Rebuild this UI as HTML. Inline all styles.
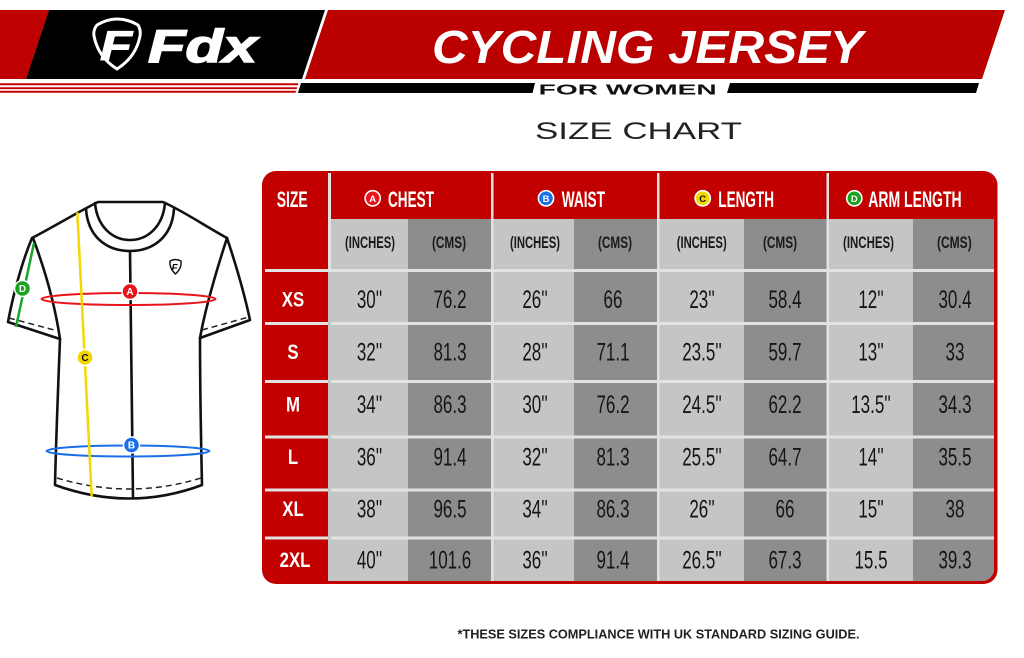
<!DOCTYPE html>
<html><head><meta charset="utf-8">
<style>
html,body{margin:0;padding:0;background:#fff;}
svg{display:block;}
text{font-family:"Liberation Sans",Arial,sans-serif;}
.n{font-size:25px;fill:#151515;}
.h{font-size:22px;font-weight:bold;fill:#fff;}
.sub{font-size:17px;font-weight:bold;fill:#1a1a1a;}
.rl{font-size:21px;font-weight:bold;fill:#fff;}
</style></head>
<body>
<svg width="1024" height="658" viewBox="0 0 1024 658" xmlns="http://www.w3.org/2000/svg">
<defs>
<clipPath id="tbl"><rect x="262" y="171" width="735.5" height="413" rx="14" ry="14"/></clipPath>
<clipPath id="inner"><rect x="262" y="171" width="732" height="410" rx="12" ry="12"/></clipPath>
</defs>
<rect width="1024" height="658" fill="#fff"/>
<!-- Header banner -->
<polygon points="0,10 49,10 26,79 0,79" fill="#bf0000"/>
<polygon points="49,10 325,10 302,79 26,79" fill="#000"/>
<polygon points="328,10 1005,10 982,79 305,79" fill="#bb0000"/>
<!-- left stripes -->
<polygon points="0,83.3 298.5,83.3 297.8,85.3 0,85.3" fill="#c40000"/>
<polygon points="0,87.2 297.2,87.2 296.6,89.1 0,89.1" fill="#c40000"/>
<polygon points="0,90.7 296.2,90.7 295.5,92.7 0,92.7" fill="#c40000"/>
<!-- black bands -->
<polygon points="301,83 535,83 532.5,93 298,93" fill="#000"/>
<polygon points="730,83 979,83 976,93 727,93" fill="#000"/>
<text x="538.7" y="94.5" font-size="15" font-weight="bold" fill="#111" textLength="178" lengthAdjust="spacingAndGlyphs">FOR WOMEN</text>
<text x="432" y="63" font-size="46" font-weight="bold" font-style="italic" fill="#fff" textLength="431" lengthAdjust="spacingAndGlyphs">CYCLING JERSEY</text>
<!-- logo -->
<path d="M97,25 Q117,13 138,25 Q141,30 140,36 Q136,57 117,69 Q98,57 94,36 Q93,30 97,25 Z" fill="none" stroke="#fff" stroke-width="3"/>
<text x="100" y="60" font-size="42" font-weight="bold" font-style="italic" fill="#fff" stroke="#fff" stroke-width="1" textLength="32" lengthAdjust="spacingAndGlyphs">F</text>
<text x="148" y="62" font-size="46" font-weight="bold" font-style="italic" fill="#fff" stroke="#fff" stroke-width="1.5" textLength="109" lengthAdjust="spacingAndGlyphs">Fdx</text>
<text x="535" y="139" font-size="24" fill="#222" textLength="207" lengthAdjust="spacingAndGlyphs">SIZE CHART</text>

<!-- Jersey -->
<g fill="none" stroke="#111" stroke-width="2.6" stroke-linejoin="round" stroke-linecap="round">
<path d="M98,202 L163,202 C185,212 205,226 227,238 C235,262 244,292 250,320 L200,338 C200,390 201,440 202,485 Q130,512 55,485 C56,440 58,390 60,339 L8,322 C13,295 22,262 32,238 C55,226 78,212 98,202 Z" fill="#fff"/>
<path d="M33,238 C45,270 55,305 60,339"/>
<path d="M227,238 C215,275 205,310 200,338"/>
<path d="M86,209 C88,238 108,251 130,251 C152,251 172,238 174,209"/>
<path d="M95,203 C97,226 112,240 130,240 C148,240 163,226 165,203"/>
<path d="M130,251 L133,498"/>
</g>
<g fill="none" stroke="#222" stroke-width="1.5" stroke-dasharray="6,4">
<path d="M9,318 L58,331"/>
<path d="M202,330 L249,317"/>
<path d="M57,478 Q130,500 201,478"/>
</g>
<!-- chest logo -->
<path d="M170,261 Q175,258 181,261 Q182,268 175.5,274 Q169,268 170,261 Z" fill="#fff" stroke="#111" stroke-width="1.4"/>
<text x="171.5" y="271" font-size="10" font-weight="bold" font-style="italic" fill="#111">F</text>
<!-- measurement lines -->
<ellipse cx="128.5" cy="299" rx="87" ry="6" fill="none" stroke="#e8141b" stroke-width="2"/>
<ellipse cx="128" cy="451" rx="81.5" ry="5.5" fill="none" stroke="#1b6fe6" stroke-width="2"/>
<line x1="77.3" y1="212.3" x2="91.7" y2="496.7" stroke="#f3d800" stroke-width="2.5"/>
<line x1="34" y1="243" x2="16" y2="327" stroke="#19a52a" stroke-width="2.5"/>
<g font-size="10" font-weight="bold" text-anchor="middle">
<circle cx="130" cy="291.5" r="8" fill="#e8141b" stroke="#fff" stroke-width="1.5"/><text x="130" y="295.2" fill="#fff">A</text>
<circle cx="131.5" cy="445" r="8" fill="#1b6fe6" stroke="#fff" stroke-width="1.5"/><text x="131.5" y="448.7" fill="#fff">B</text>
<circle cx="85" cy="357.5" r="8" fill="#f2d600" stroke="#fff" stroke-width="1.5"/><text x="85" y="361.2" fill="#111">C</text>
<circle cx="22.5" cy="288.5" r="8" fill="#1aa321" stroke="#fff" stroke-width="1.5"/><text x="22.5" y="292.2" fill="#fff">D</text>
</g>

<!-- Table -->
<rect x="262" y="171" width="735.5" height="413" rx="14" ry="14" fill="#c20000"/>
<g clip-path="url(#inner)">
<rect x="328" y="173" width="666" height="408" fill="#e2e2e2"/>
<!-- header red cells -->
<rect x="331" y="171" width="160" height="48" fill="#c20000"/>
<rect x="493.5" y="171" width="163.5" height="48" fill="#c20000"/>
<rect x="659.5" y="171" width="167" height="48" fill="#c20000"/>
<rect x="829" y="171" width="168" height="48" fill="#c20000"/>
<rect x="328" y="171" width="3" height="2" fill="#c20000"/>
<rect x="491" y="171" width="2.5" height="2" fill="#c20000"/>
<rect x="657" y="171" width="2.5" height="2" fill="#c20000"/>
<rect x="826.5" y="171" width="2.5" height="2" fill="#c20000"/>
<!-- size column horizontal separators -->
<g fill="#e2e2e2">
<rect x="265" y="269" width="63" height="3"/>
<rect x="265" y="322" width="63" height="3"/>
<rect x="265" y="380" width="63" height="3"/>
<rect x="265" y="435.5" width="63" height="3"/>
<rect x="265" y="488.5" width="63" height="3"/>
<rect x="265" y="536.5" width="63" height="3"/>
</g>
<!-- gray cells -->
<g fill="#c5c5c5">
<rect x="331" y="219" width="77" height="50"/><rect x="493.5" y="219" width="80.5" height="50"/><rect x="659.5" y="219" width="84.5" height="50"/><rect x="829" y="219" width="84" height="50"/>
<rect x="331" y="272" width="77" height="50"/><rect x="493.5" y="272" width="80.5" height="50"/><rect x="659.5" y="272" width="84.5" height="50"/><rect x="829" y="272" width="84" height="50"/>
<rect x="331" y="325" width="77" height="55"/><rect x="493.5" y="325" width="80.5" height="55"/><rect x="659.5" y="325" width="84.5" height="55"/><rect x="829" y="325" width="84" height="55"/>
<rect x="331" y="383" width="77" height="52.5"/><rect x="493.5" y="383" width="80.5" height="52.5"/><rect x="659.5" y="383" width="84.5" height="52.5"/><rect x="829" y="383" width="84" height="52.5"/>
<rect x="331" y="438.5" width="77" height="50"/><rect x="493.5" y="438.5" width="80.5" height="50"/><rect x="659.5" y="438.5" width="84.5" height="50"/><rect x="829" y="438.5" width="84" height="50"/>
<rect x="331" y="491.5" width="77" height="45"/><rect x="493.5" y="491.5" width="80.5" height="45"/><rect x="659.5" y="491.5" width="84.5" height="45"/><rect x="829" y="491.5" width="84" height="45"/>
<rect x="328" y="539.5" width="80" height="41.5"/><rect x="493.5" y="539.5" width="80.5" height="41.5"/><rect x="659.5" y="539.5" width="84.5" height="41.5"/><rect x="829" y="539.5" width="84" height="41.5"/>
</g>
<g fill="#8d8d8d">
<rect x="408" y="219" width="83" height="50"/><rect x="574" y="219" width="83" height="50"/><rect x="744" y="219" width="82.5" height="50"/><rect x="913" y="219" width="81" height="50"/>
<rect x="408" y="272" width="83" height="50"/><rect x="574" y="272" width="83" height="50"/><rect x="744" y="272" width="82.5" height="50"/><rect x="913" y="272" width="81" height="50"/>
<rect x="408" y="325" width="83" height="55"/><rect x="574" y="325" width="83" height="55"/><rect x="744" y="325" width="82.5" height="55"/><rect x="913" y="325" width="81" height="55"/>
<rect x="408" y="383" width="83" height="52.5"/><rect x="574" y="383" width="83" height="52.5"/><rect x="744" y="383" width="82.5" height="52.5"/><rect x="913" y="383" width="81" height="52.5"/>
<rect x="408" y="438.5" width="83" height="50"/><rect x="574" y="438.5" width="83" height="50"/><rect x="744" y="438.5" width="82.5" height="50"/><rect x="913" y="438.5" width="81" height="50"/>
<rect x="408" y="491.5" width="83" height="45"/><rect x="574" y="491.5" width="83" height="45"/><rect x="744" y="491.5" width="82.5" height="45"/><rect x="913" y="491.5" width="81" height="45"/>
<rect x="408" y="539.5" width="83" height="41.5"/><rect x="574" y="539.5" width="83" height="41.5"/><rect x="744" y="539.5" width="82.5" height="41.5"/><rect x="913" y="539.5" width="81" height="41.5"/>
</g>
<rect x="328" y="272" width="3" height="309" fill="#c5c5c5"/>
</g>

<!-- header texts -->
<text class="h" x="276.7" y="207" textLength="31" lengthAdjust="spacingAndGlyphs">SIZE</text>
<text class="h" x="388" y="207" textLength="46" lengthAdjust="spacingAndGlyphs">CHEST</text>
<text class="h" x="561.7" y="207" textLength="43.3" lengthAdjust="spacingAndGlyphs">WAIST</text>
<text class="h" x="718.3" y="207" textLength="55.7" lengthAdjust="spacingAndGlyphs">LENGTH</text>
<text class="h" x="868.3" y="207" textLength="93.3" lengthAdjust="spacingAndGlyphs">ARM LENGTH</text>
<g font-size="9.5" font-weight="bold" text-anchor="middle">
<circle cx="372.7" cy="198.3" r="7.6" fill="#e8141b" stroke="#fff" stroke-width="1.6"/><text x="372.7" y="201.8" fill="#fff">A</text>
<circle cx="546" cy="198.3" r="7.6" fill="#1b6fe6" stroke="#fff" stroke-width="1.6"/><text x="546" y="201.8" fill="#fff">B</text>
<circle cx="702.7" cy="198.3" r="7.6" fill="#f2d600" stroke="#fff" stroke-width="1.6"/><text x="702.7" y="201.8" fill="#111">C</text>
<circle cx="854.3" cy="198.3" r="7.6" fill="#1aa321" stroke="#fff" stroke-width="1.6"/><text x="854.3" y="201.8" fill="#fff">D</text>
</g>
<!-- sub headers -->
<text class="sub" x="345" y="248" textLength="50" lengthAdjust="spacingAndGlyphs">(INCHES)</text>
<text class="sub" x="432" y="248" textLength="34" lengthAdjust="spacingAndGlyphs">(CMS)</text>
<text class="sub" x="510" y="248" textLength="50" lengthAdjust="spacingAndGlyphs">(INCHES)</text>
<text class="sub" x="598" y="248" textLength="34" lengthAdjust="spacingAndGlyphs">(CMS)</text>
<text class="sub" x="676.7" y="248" textLength="50" lengthAdjust="spacingAndGlyphs">(INCHES)</text>
<text class="sub" x="763" y="248" textLength="34" lengthAdjust="spacingAndGlyphs">(CMS)</text>
<text class="sub" x="843" y="248" textLength="51" lengthAdjust="spacingAndGlyphs">(INCHES)</text>
<text class="sub" x="937" y="248" textLength="34.7" lengthAdjust="spacingAndGlyphs">(CMS)</text>

<!-- row labels -->
<g class="rl" text-anchor="middle">
<text class="rl" transform="translate(293 306.5) scale(0.8 1)">XS</text>
<text class="rl" transform="translate(293 359) scale(0.8 1)">S</text>
<text class="rl" transform="translate(293 411.5) scale(0.8 1)">M</text>
<text class="rl" transform="translate(293 464) scale(0.8 1)">L</text>
<text class="rl" transform="translate(293 516) scale(0.8 1)">XL</text>
<text class="rl" transform="translate(295 567) scale(0.8 1)">2XL</text>
</g>

<!-- numbers -->
<g text-anchor="middle">
<text class="n" transform="translate(369.5 308) scale(0.68 1)">30''</text>
<text class="n" transform="translate(450 308) scale(0.68 1)">76.2</text>
<text class="n" transform="translate(535 308) scale(0.68 1)">26''</text>
<text class="n" transform="translate(613 308) scale(0.68 1)">66</text>
<text class="n" transform="translate(702 308) scale(0.68 1)">23''</text>
<text class="n" transform="translate(785 308) scale(0.68 1)">58.4</text>
<text class="n" transform="translate(871 308) scale(0.68 1)">12''</text>
<text class="n" transform="translate(955 308) scale(0.68 1)">30.4</text>

<text class="n" transform="translate(369.5 360.5) scale(0.68 1)">32''</text>
<text class="n" transform="translate(450 360.5) scale(0.68 1)">81.3</text>
<text class="n" transform="translate(535 360.5) scale(0.68 1)">28''</text>
<text class="n" transform="translate(613 360.5) scale(0.68 1)">71.1</text>
<text class="n" transform="translate(702 360.5) scale(0.68 1)">23.5''</text>
<text class="n" transform="translate(785 360.5) scale(0.68 1)">59.7</text>
<text class="n" transform="translate(871 360.5) scale(0.68 1)">13''</text>
<text class="n" transform="translate(955 360.5) scale(0.68 1)">33</text>

<text class="n" transform="translate(369.5 413) scale(0.68 1)">34''</text>
<text class="n" transform="translate(450 413) scale(0.68 1)">86.3</text>
<text class="n" transform="translate(535 413) scale(0.68 1)">30''</text>
<text class="n" transform="translate(613 413) scale(0.68 1)">76.2</text>
<text class="n" transform="translate(702 413) scale(0.68 1)">24.5''</text>
<text class="n" transform="translate(785 413) scale(0.68 1)">62.2</text>
<text class="n" transform="translate(871 413) scale(0.68 1)">13.5''</text>
<text class="n" transform="translate(955 413) scale(0.68 1)">34.3</text>

<text class="n" transform="translate(369.5 465.5) scale(0.68 1)">36''</text>
<text class="n" transform="translate(450 465.5) scale(0.68 1)">91.4</text>
<text class="n" transform="translate(535 465.5) scale(0.68 1)">32''</text>
<text class="n" transform="translate(613 465.5) scale(0.68 1)">81.3</text>
<text class="n" transform="translate(702 465.5) scale(0.68 1)">25.5''</text>
<text class="n" transform="translate(785 465.5) scale(0.68 1)">64.7</text>
<text class="n" transform="translate(871 465.5) scale(0.68 1)">14''</text>
<text class="n" transform="translate(955 465.5) scale(0.68 1)">35.5</text>

<text class="n" transform="translate(369.5 517.5) scale(0.68 1)">38''</text>
<text class="n" transform="translate(450 517.5) scale(0.68 1)">96.5</text>
<text class="n" transform="translate(535 517.5) scale(0.68 1)">34''</text>
<text class="n" transform="translate(613 517.5) scale(0.68 1)">86.3</text>
<text class="n" transform="translate(702 517.5) scale(0.68 1)">26''</text>
<text class="n" transform="translate(785 517.5) scale(0.68 1)">66</text>
<text class="n" transform="translate(871 517.5) scale(0.68 1)">15''</text>
<text class="n" transform="translate(955 517.5) scale(0.68 1)">38</text>

<text class="n" transform="translate(369.5 568.5) scale(0.68 1)">40''</text>
<text class="n" transform="translate(450 568.5) scale(0.68 1)">101.6</text>
<text class="n" transform="translate(535 568.5) scale(0.68 1)">36''</text>
<text class="n" transform="translate(613 568.5) scale(0.68 1)">91.4</text>
<text class="n" transform="translate(702 568.5) scale(0.68 1)">26.5''</text>
<text class="n" transform="translate(785 568.5) scale(0.68 1)">67.3</text>
<text class="n" transform="translate(871 568.5) scale(0.68 1)">15.5</text>
<text class="n" transform="translate(955 568.5) scale(0.68 1)">39.3</text>
</g>

<text x="457.5" y="638.7" font-size="12.5" font-weight="bold" fill="#222" textLength="402" lengthAdjust="spacingAndGlyphs">*THESE SIZES COMPLIANCE WITH UK STANDARD SIZING GUIDE.</text>
</svg>
</body></html>
